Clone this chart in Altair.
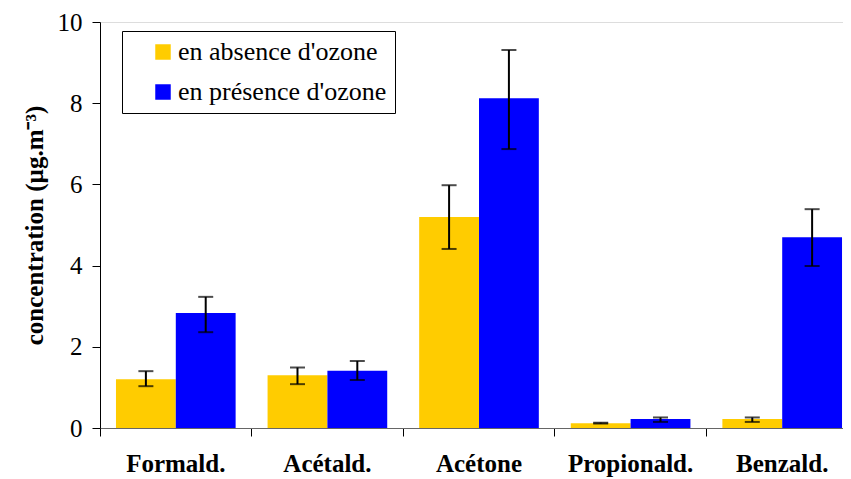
import altair as alt
import pandas as pd

compounds = ["Formald.", "Acétald.", "Acétone", "Propionald.", "Benzald."]
series = ["en absence d'ozone", "en présence d'ozone"]
absence = [1.20, 1.30, 5.20, 0.12, 0.22]
absence_low = [1.03, 1.08, 4.41, 0.11, 0.15]
absence_high = [1.40, 1.49, 5.98, 0.13, 0.26]
presence = [2.83, 1.41, 8.12, 0.22, 4.70]
presence_low = [2.36, 1.18, 6.87, 0.15, 3.99]
presence_high = [3.23, 1.65, 9.31, 0.26, 5.39]

rows = []
for i, c in enumerate(compounds):
    rows.append({"compound": c, "serie": series[0], "value": absence[i],
                 "low": absence_low[i], "high": absence_high[i]})
    rows.append({"compound": c, "serie": series[1], "value": presence[i],
                 "low": presence_low[i], "high": presence_high[i]})
df = pd.DataFrame(rows)

FONT = "Liberation Serif"

x_scale = alt.Scale(paddingInner=0, paddingOuter=0, range=[0, 758])
x = alt.X("compound:N", sort=compounds, title=None, scale=x_scale,
          axis=alt.Axis(bandPosition=0, labelFont=FONT, labelFontSize=25,
                        labelFontWeight="bold", labelColor="black",
                        labelAngle=0, labelPadding=15, tickSize=8,
                        tickColor="black", domainColor="#666666",
                        grid=False))
xoff = alt.XOffset("serie:N", sort=series,
                   scale=alt.Scale(paddingInner=0, paddingOuter=0.267))
y_scale = alt.Scale(domain=[0, 10], nice=False)

bars = alt.Chart(df).mark_bar().encode(
    x=x,
    xOffset=xoff,
    y=alt.Y("value:Q", scale=y_scale,
            title="concentration (µg.m⁻³)",
            axis=alt.Axis(values=[0, 2, 4, 6, 8, 10], labelFont=FONT,
                          labelFontSize=25, labelColor="black",
                          labelPadding=10, tickSize=8, tickColor="black",
                          domainColor="black", grid=False,
                          titleFont=FONT, titleFontSize=25,
                          titleFontWeight="bold", titleColor="black",
                          titlePadding=10)),
    color=alt.Color("serie:N", sort=series,
                    scale=alt.Scale(domain=series, range=["#FFCC00", "#0000FF"]),
                    legend=alt.Legend(title=None, orient="none",
                                      legendX=22, legendY=9,
                                      labelFont=FONT, labelFontSize=26,
                                      labelColor="black", labelLimit=0,
                                      symbolType="square", symbolSize=240,
                                      symbolStrokeWidth=0, symbolOffset=20,
                                      labelOffset=2, rowPadding=14,
                                      padding=8, strokeColor="black",
                                      fillColor="white")),
)

err = alt.Chart(df).mark_rule(color="black", strokeWidth=2).encode(
    x=alt.X("compound:N", sort=compounds),
    xOffset=alt.XOffset("serie:N", sort=series),
    y="low:Q",
    y2="high:Q",
)
cap_lo = alt.Chart(df).mark_tick(color="black", thickness=2, size=15,
                                 orient="horizontal").encode(
    x=alt.X("compound:N", sort=compounds),
    xOffset=alt.XOffset("serie:N", sort=series),
    y="low:Q",
)
cap_hi = alt.Chart(df).mark_tick(color="black", thickness=2, size=15,
                                 orient="horizontal").encode(
    x=alt.X("compound:N", sort=compounds),
    xOffset=alt.XOffset("serie:N", sort=series),
    y="high:Q",
)

chart = alt.layer(bars, err, cap_lo, cap_hi).properties(
    width=743, height=406,
    autosize=alt.AutoSizeParams(type="none"),
    padding={"left": 92, "top": 14, "right": 0, "bottom": 51},
).configure_view(stroke=None).configure(
    background="white", font=FONT
).configure_legend(labelFont=FONT, labelFontSize=26)

chart.save("out.html", embed_options={"renderer": "svg", "actions": False})
